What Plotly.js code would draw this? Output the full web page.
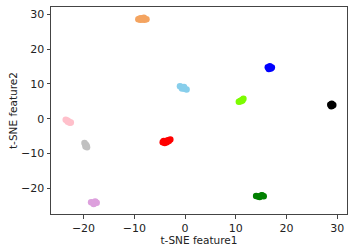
<!DOCTYPE html>
<html>
<head>
<meta charset="utf-8">
<script src="https://cdn.plot.ly/plotly-3.0.1.min.js"></script>
<style>html,body{margin:0;padding:0;background:#fff;}#chart{width:348px;height:246px;}</style>
</head>
<body>
<div id="chart"></div>
<script>
// cluster labels and colours
const clusterNames = ["0","1","2","3","4","5","6","7","8","9"];
const clusterColors = ["#F4A460","#87CEEB","#0000FF","#7CFC00","#000000","#FFC0CB","#C0C0C0","#FF0000","#DDA0DD","#008000"];
// sample points of each cluster
const xOrange = [-9.2,-8.8,-8.4,-8.0,-7.6,-8.6,-8.1,-8.9];
const yOrange = [28.6,28.4,28.5,28.4,28.6,28.9,29.0,28.8];
const xSky = [-1.0,-0.7,-0.4,-0.1,0.3,-0.6,-0.2];
const ySky = [9.3,9.1,8.9,8.6,8.4,8.7,9.1];
const xBlue = [16.3,16.7,17.1,16.5,16.9,16.7];
const yBlue = [14.8,15.1,14.7,14.3,14.4,14.7];
const xLime = [10.6,10.9,11.2,11.5,11.0,11.3];
const yLime = [4.9,5.1,5.4,5.7,5.0,5.2];
const xBlack = [28.6,28.9,29.2,28.8,29.0,28.9];
const yBlack = [4.0,4.3,3.9,3.6,3.7,4.0];
const xPink = [-23.5,-23.2,-22.9,-22.5,-23.1,-22.7];
const yPink = [-0.3,-0.5,-0.8,-1.1,-0.9,-1.2];
const xGray = [-19.8,-19.6,-19.4,-19.3,-19.6,-19.5];
const yGray = [-7.0,-7.4,-7.8,-8.2,-8.0,-7.6];
const xRed = [-4.4,-4.0,-3.6,-3.2,-2.9,-3.9,-3.4,-4.2];
const yRed = [-6.8,-7.0,-6.8,-6.4,-6.0,-6.5,-6.2,-6.4];
const xPlum = [-18.5,-18.1,-17.7,-17.4,-18.0,-17.8];
const yPlum = [-24.0,-24.2,-23.8,-24.2,-24.5,-24.3];
const xGreen = [14.0,14.4,14.8,15.2,15.5,14.7,15.1];
const yGreen = [-22.2,-22.4,-22.3,-22.1,-22.3,-22.5,-22.0];

const xs = [xOrange,xSky,xBlue,xLime,xBlack,xPink,xGray,xRed,xPlum,xGreen];
const ys = [yOrange,ySky,yBlue,yLime,yBlack,yPink,yGray,yRed,yPlum,yGreen];

const xTicks = [-20,-10,0,10,20,30];
const yTicks = [-20,-10,0,10,20,30];

const traces = clusterNames.map((n,i)=>({
  type:"scatter", mode:"markers", name:n,
  x: xs[i], y: ys[i],
  marker:{color:clusterColors[i], size:6.5, line:{width:0}},
  hoverinfo:"skip"
}));

const axisCommon = {
  showgrid:false, zeroline:false, showline:true, linecolor:"#444", linewidth:1,
  ticks:"outside", ticklen:3.5, tickwidth:1, tickcolor:"#444",
  tickfont:{family:"DejaVu Sans", size:11, color:"#222"},
  mirror:true
};

const layout = {
  width:348, height:246,
  margin:{l:51, r:1, t:7, b:32},
  paper_bgcolor:"#fff", plot_bgcolor:"#fff",
  showlegend:false,
  xaxis:Object.assign({}, axisCommon, {
    range:[-26.4,31.9], tickvals:xTicks,
    title:{text:"t-SNE feature1", font:{family:"DejaVu Sans", size:10.5, color:"#222"}, standoff:0}
  }),
  yaxis:Object.assign({}, axisCommon, {
    range:[-27.4,32.1], tickvals:yTicks,
    title:{text:"t-SNE feature2", font:{family:"DejaVu Sans", size:10.5, color:"#222"}, standoff:1}
  })
};

Plotly.newPlot("chart", traces, layout, {staticPlot:true, displayModeBar:false});
</script>
</body>
</html>
